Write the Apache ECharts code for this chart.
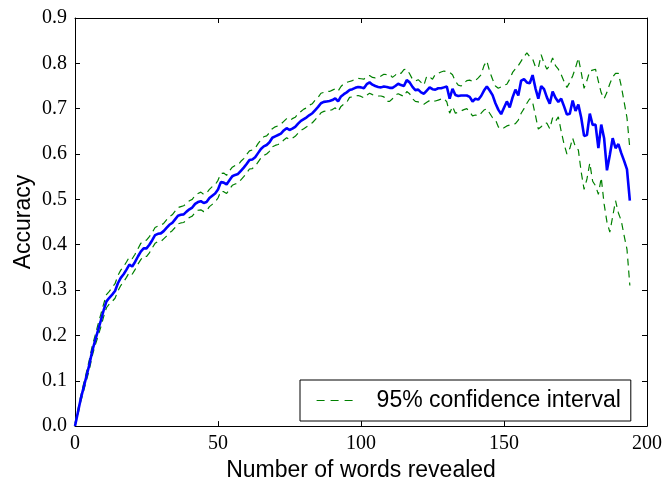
<!DOCTYPE html>
<html>
<head>
<meta charset="utf-8">
<script src="https://cdn.jsdelivr.net/npm/echarts@6/dist/echarts.min.js"></script>
<style>
  html, body { margin: 0; padding: 0; background: #fff; }
  #chart { width: 666px; height: 487px; }
</style>
</head>
<body>
<div id="chart"></div>
<script>
// Accuracy after each number of revealed words (x = 0, 1, 2, ...)
const accuracy = [
  0.000,0.030,0.060,0.085,0.110,0.135,0.165,0.188,0.210,0.232,
  0.255,0.275,0.283,0.290,0.298,0.315,0.327,0.335,0.345,0.356,
  0.352,0.362,0.374,0.385,0.392,0.392,0.400,0.410,0.421,0.424,
  0.425,0.430,0.437,0.444,0.448,0.456,0.464,0.466,0.467,0.473,
  0.478,0.482,0.490,0.494,0.496,0.492,0.494,0.503,0.508,0.513,
  0.522,0.538,0.537,0.533,0.542,0.551,0.554,0.556,0.563,0.570,
  0.578,0.587,0.588,0.593,0.602,0.611,0.617,0.620,0.626,0.636,
  0.639,0.642,0.645,0.652,0.657,0.653,0.656,0.660,0.667,0.673,
  0.677,0.681,0.686,0.690,0.697,0.704,0.712,0.715,0.716,0.717,
  0.719,0.723,0.716,0.727,0.732,0.736,0.741,0.743,0.746,0.748,
  0.747,0.745,0.754,0.758,0.753,0.750,0.748,0.747,0.749,0.748,
  0.746,0.746,0.750,0.755,0.752,0.750,0.763,0.758,0.748,0.741,
  0.742,0.736,0.733,0.740,0.747,0.743,0.742,0.745,0.745,0.747,
  0.749,0.722,0.744,0.730,0.728,0.729,0.729,0.729,0.726,0.716,
  0.722,0.720,0.728,0.740,0.749,0.740,0.730,0.712,0.698,0.688,
  0.702,0.716,0.703,0.725,0.742,0.729,0.762,0.765,0.758,0.756,
  0.774,0.745,0.722,0.750,0.743,0.725,0.711,0.738,0.724,0.715,
  0.722,0.705,0.687,0.689,0.718,0.695,0.709,0.680,0.640,0.642,
  0.689,0.664,0.665,0.613,0.665,0.635,0.564,0.598,0.635,0.613,
  0.622,0.602,0.585,0.566,0.497
];

// Upper bound of the 95% confidence interval
const upperCI = [
  0.006,0.036,0.066,0.093,0.119,0.146,0.176,0.199,0.223,0.246,
  0.269,0.290,0.297,0.306,0.314,0.332,0.344,0.352,0.362,0.373,
  0.369,0.379,0.391,0.403,0.409,0.410,0.418,0.427,0.438,0.441,
  0.443,0.447,0.455,0.462,0.466,0.474,0.482,0.484,0.486,0.491,
  0.497,0.500,0.509,0.513,0.516,0.511,0.514,0.522,0.528,0.532,
  0.542,0.557,0.558,0.553,0.563,0.571,0.575,0.576,0.584,0.590,
  0.599,0.607,0.609,0.613,0.623,0.631,0.638,0.640,0.647,0.656,
  0.660,0.662,0.666,0.672,0.678,0.674,0.678,0.681,0.689,0.694,
  0.699,0.702,0.708,0.711,0.719,0.725,0.734,0.736,0.738,0.738,
  0.741,0.744,0.739,0.749,0.755,0.758,0.760,0.762,0.765,0.767,
  0.766,0.765,0.771,0.773,0.769,0.768,0.770,0.772,0.776,0.775,
  0.776,0.769,0.774,0.780,0.778,0.786,0.787,0.777,0.765,0.761,
  0.764,0.758,0.752,0.772,0.770,0.765,0.776,0.778,0.781,0.783,
  0.782,0.780,0.775,0.760,0.752,0.750,0.756,0.762,0.763,0.760,
  0.762,0.768,0.775,0.795,0.805,0.782,0.765,0.750,0.745,0.748,
  0.752,0.754,0.765,0.780,0.788,0.795,0.805,0.815,0.823,0.815,
  0.810,0.792,0.790,0.819,0.800,0.787,0.795,0.812,0.795,0.787,
  0.775,0.760,0.747,0.758,0.772,0.790,0.812,0.780,0.745,0.762,
  0.783,0.785,0.787,0.760,0.735,0.722,0.736,0.755,0.770,0.778,
  0.778,0.750,0.715,0.680,0.612
];

// Lower bound of the 95% confidence interval
const lowerCI = [
  0.000,0.024,0.054,0.077,0.101,0.124,0.154,0.177,0.197,0.218,
  0.241,0.261,0.269,0.275,0.282,0.298,0.310,0.318,0.328,0.339,
  0.335,0.345,0.357,0.367,0.375,0.374,0.382,0.393,0.403,0.407,
  0.407,0.413,0.419,0.426,0.431,0.438,0.446,0.448,0.449,0.455,
  0.460,0.463,0.471,0.476,0.477,0.473,0.475,0.484,0.489,0.494,
  0.503,0.518,0.517,0.513,0.522,0.531,0.534,0.536,0.543,0.550,
  0.558,0.567,0.568,0.573,0.582,0.591,0.597,0.600,0.606,0.616,
  0.619,0.621,0.624,0.631,0.636,0.632,0.635,0.639,0.646,0.652,
  0.656,0.660,0.665,0.669,0.676,0.683,0.691,0.694,0.695,0.696,
  0.698,0.702,0.694,0.705,0.710,0.714,0.725,0.726,0.728,0.729,
  0.727,0.724,0.730,0.734,0.731,0.729,0.728,0.728,0.726,0.716,
  0.716,0.722,0.730,0.733,0.730,0.727,0.738,0.733,0.722,0.716,
  0.715,0.712,0.710,0.714,0.718,0.716,0.717,0.719,0.721,0.723,
  0.715,0.690,0.705,0.690,0.692,0.695,0.698,0.700,0.693,0.684,
  0.686,0.684,0.690,0.697,0.700,0.690,0.680,0.676,0.660,0.655,
  0.658,0.662,0.664,0.666,0.667,0.675,0.690,0.700,0.712,0.722,
  0.714,0.685,0.655,0.660,0.668,0.668,0.656,0.680,0.672,0.682,
  0.650,0.622,0.600,0.612,0.635,0.615,0.609,0.560,0.522,0.545,
  0.580,0.540,0.530,0.511,0.548,0.490,0.450,0.428,0.462,0.497,
  0.470,0.453,0.420,0.390,0.310
];

const xTicks = [0, 50, 100, 150, 200];
const yTicks = [0.0, 0.1, 0.2, 0.3, 0.4, 0.5, 0.6, 0.7, 0.8, 0.9];
const ciLabel = '95% confidence interval';

const toPairs = arr => arr.map((v, i) => [i, v]);

const serifLabel = {
  fontFamily: 'Liberation Serif',
  fontSize: 20,
  color: '#000'
};
const frameLine = { show: true, onZero: false, lineStyle: { color: '#000', width: 1 } };
const tickIn = { show: true, inside: true, length: 5, lineStyle: { color: '#000', width: 1 } };
const ciLine = { color: '#008000', width: 1.2, type: [7, 5] };

const chart = echarts.init(document.getElementById('chart'), null, { renderer: 'canvas' });

chart.setOption({
  backgroundColor: '#fff',
  animation: false,
  grid: { left: 75, right: 19, top: 18, bottom: 55, containLabel: false },
  legend: {
    data: [ciLabel],
    left: 300,
    top: 380,
    orient: 'horizontal',
    borderColor: '#000',
    borderWidth: 1,
    borderRadius: 0,
    padding: [9, 10, 9, 16],
    itemWidth: 38,
    itemHeight: 20,
    selectedMode: false,
    // dashed line sample only, no marker dot
    itemStyle: { opacity: 0 },
    lineStyle: { color: '#008000', width: 1.2, type: [8, 6] },
    textStyle: {
      fontFamily: 'Liberation Sans',
      fontSize: 23,
      color: '#000',
      padding: [0, 0, 0, 17]
    }
  },
  xAxis: [
    {
      type: 'value',
      min: xTicks[0],
      max: xTicks[xTicks.length - 1],
      interval: 50,
      position: 'bottom',
      name: 'Number of words revealed',
      nameLocation: 'middle',
      nameGap: 24,
      nameTextStyle: { fontFamily: 'Liberation Sans', fontSize: 23, color: '#000', verticalAlign: 'top' },
      axisLine: frameLine,
      axisTick: tickIn,
      axisLabel: Object.assign({ margin: 8, formatter: v => String(v) }, serifLabel),
      splitLine: { show: false }
    },
    {
      type: 'value',
      min: xTicks[0],
      max: xTicks[xTicks.length - 1],
      interval: 50,
      position: 'top',
      axisLine: frameLine,
      axisTick: tickIn,
      axisLabel: { show: false },
      splitLine: { show: false }
    }
  ],
  yAxis: [
    {
      type: 'value',
      min: yTicks[0],
      max: yTicks[yTicks.length - 1],
      interval: 0.1,
      position: 'left',
      name: 'Accuracy',
      nameLocation: 'middle',
      nameGap: 40,
      nameMoveOverlap: false,
      nameTextStyle: { fontFamily: 'Liberation Sans', fontSize: 23, color: '#000' },
      axisLine: frameLine,
      axisTick: tickIn,
      axisLabel: Object.assign({ margin: 8, formatter: v => v.toFixed(1) }, serifLabel),
      splitLine: { show: false }
    },
    {
      type: 'value',
      min: yTicks[0],
      max: yTicks[yTicks.length - 1],
      interval: 0.1,
      position: 'right',
      axisLine: frameLine,
      axisTick: tickIn,
      axisLabel: { show: false },
      splitLine: { show: false }
    }
  ],
  series: [
    {
      name: ciLabel,
      type: 'line',
      data: toPairs(upperCI),
      symbol: 'none',
      silent: true,
      lineStyle: ciLine,
      itemStyle: { color: '#008000' },
      z: 2
    },
    {
      name: ciLabel,
      type: 'line',
      data: toPairs(lowerCI),
      symbol: 'none',
      silent: true,
      lineStyle: ciLine,
      itemStyle: { color: '#008000' },
      z: 2
    },
    {
      name: 'Accuracy',
      type: 'line',
      data: toPairs(accuracy),
      symbol: 'none',
      silent: true,
      lineStyle: { color: '#0000ff', width: 2.6 },
      itemStyle: { color: '#0000ff' },
      z: 3
    }
  ]
});
</script>
</body>
</html>
